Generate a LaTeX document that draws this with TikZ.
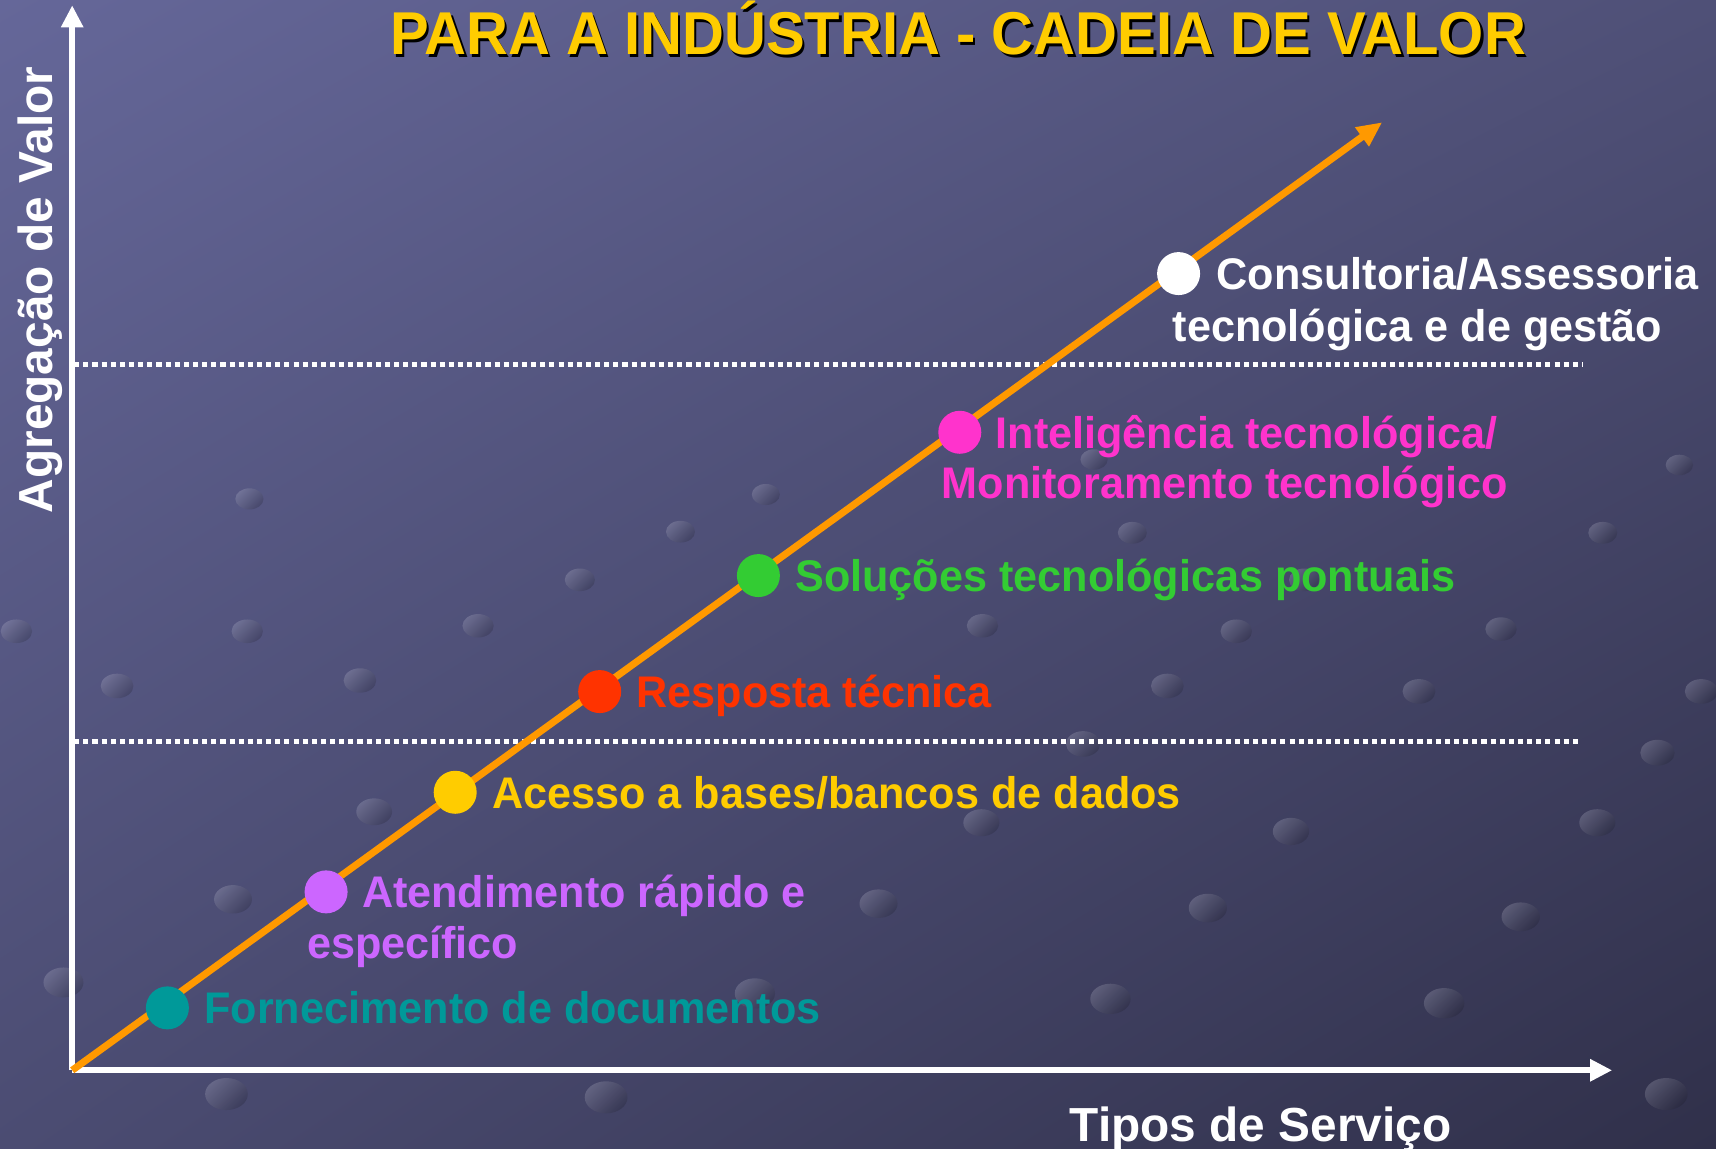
\documentclass[tikz,border=0pt]{standalone}
\usepackage{fontspec}
\setmainfont{Liberation Sans}
\newfontfamily\titleFamily[FakeStretch=0.96]{Liberation Sans}
\newfontfamily\labelFamily[FakeStretch=0.975]{Liberation Sans}
\usetikzlibrary{arrows.meta,positioning,shadings}

\newcommand{\xAxisLength}{15.40}
\newcommand{\yAxisHeight}{10.65}
\newcommand{\labelFont}{\labelFamily\fontsize{12.6}{15}\selectfont\bfseries}
\newcommand{\axisFont}{\fontsize{13.6}{16}\selectfont\bfseries}
\newcommand{\titleFont}{\titleFamily\fontsize{17.2}{20}\selectfont\bfseries}

\definecolor{bgTopLeft}{HTML}{656799}
\definecolor{bgTopRight}{HTML}{4F5077}
\definecolor{bgBottomLeft}{HTML}{4B4C72}
\definecolor{bgBottomRight}{HTML}{30304A}
\definecolor{valueOrange}{HTML}{FF9900}
\definecolor{titleYellow}{HTML}{FFCC00}
\definecolor{fornecColor}{HTML}{009999}
\definecolor{atendColor}{HTML}{CC66FF}
\definecolor{acessoColor}{HTML}{FFCC00}
\definecolor{respostaColor}{HTML}{FF3300}
\definecolor{solucoesColor}{HTML}{33CC33}
\definecolor{intelColor}{HTML}{FF33CC}

\tikzset{
  axis/.style={white, line width=1.8pt, -{Triangle[length=0.22cm,width=0.21cm]}},
  level/.style={white, line width=1.4pt, dash pattern=on 1.45pt off 1.15pt},
  point/.style={circle, fill=#1, minimum size=0.43cm, inner sep=0pt},
  lbl/.style={text=#1, font=\labelFont, inner sep=0pt, text height=9pt, text depth=0pt},
  bump/.style={top color=white!70!bgTopLeft, bottom color=black!60!bgBottomRight, shading angle=45, fill opacity=0.22},
}

\begin{document}
\begin{tikzpicture}
\useasboundingbox (-0.722,-0.787) rectangle (16.438,10.703);
\shade[upper left=bgTopLeft, upper right=bgTopRight, lower left=bgBottomLeft, lower right=bgBottomRight]
  (-0.722,-0.787) rectangle (16.438,10.703);

% background bumps, positions in px
\foreach \bx/\by in {207/1000, 554/1003, 1523/1000, 58/898, 690/908, 1015/913, 1320/917,
    213/822, 803/826, 1104/830, 1390/838, 342/742, 897/752, 1180/760, 1460/752,
    990/680, 1515/688, 107/627, 329/622, 1067/627, 1297/632, 1555/632,
    15/577, 226/577, 437/572, 898/572, 1130/577, 1372/575, 530/530, 1192/530,
    622/486, 1035/487, 1465/487, 228/456, 700/452, 1000/420, 1535/425}
  \shade[bump] ({\bx*0.010944-0.722},{10.703-\by*0.010944})
    ellipse ({0.08+0.14*\by/1050} and {0.75*(0.08+0.14*\by/1050)});

% title with drop shadow
\node[text=black, font=\titleFont, inner sep=0pt] (titleShadow) at (8.884,10.395) {PARA A INDÚSTRIA - CADEIA DE VALOR};
\node[text=titleYellow, font=\titleFont, inner sep=0pt] (title) at (8.859,10.420) {PARA A INDÚSTRIA - CADEIA DE VALOR};

% levels
\draw[level] (0.02,7.06) -- (15.11,7.06);
\draw[level] (0.02,3.29) -- (15.06,3.29);

% axes
\coordinate (origin) at (0,0);
\coordinate (yTip) at (0,\yAxisHeight);
\coordinate (xTip) at (\xAxisLength,0);
\coordinate (valueTip) at (13.10,9.48);
\draw[axis] (origin) -- (yTip);
\draw[axis] (origin) -- (xTip);
\node[text=white, font=\axisFont, rotate=90, inner sep=0pt, text height=9.75pt, text depth=0pt] (yLabel) at (-0.372,7.803) {Agregação de Valor};
\node[text=white, font=\axisFont, inner sep=0pt, text height=9.75pt, text depth=0pt] (xLabel) at (11.885,-0.536) {Tipos de Serviço};

% value chain
\draw[valueOrange, line width=2pt, -{Triangle[length=0.25cm,width=0.22cm]}] (origin) -- (valueTip);

\node[point=fornecColor] (fornec) at (0.952,0.624) {};
\node[point=atendColor] (atend) at (2.539,1.784) {};
\node[point=acessoColor] (acesso) at (3.830,2.780) {};
\node[point=respostaColor] (resposta) at (5.275,3.787) {};
\node[point=solucoesColor] (solucoes) at (6.862,4.947) {};
\node[point=intelColor] (intel) at (8.876,6.380) {};
\node[point=white] (consult) at (11.064,7.967) {};

\node[lbl=fornecColor, right=1.4mm of fornec] (fornecText) {Fornecimento de documentos};
\node[lbl=atendColor, right=1.3mm of atend] (atendText) {Atendimento rápido e};
\node[lbl=atendColor, anchor=base west] (atendTextB) at (2.342,1.119) {específico};
\node[lbl=acessoColor, right=1.4mm of acesso] (acessoText) {Acesso a bases/bancos de dados};
\node[lbl=respostaColor, right=1.4mm of resposta] (respostaText) {Resposta técnica};
\node[lbl=solucoesColor, right=1.4mm of solucoes] (solucoesText) {Soluções tecnológicas pontuais};
\node[lbl=intelColor, right=1.3mm of intel] (intelText) {Inteligência tecnológica/};
\node[lbl=intelColor, anchor=base west] (intelTextB) at (8.689,5.715) {Monitoramento tecnológico};
\node[lbl=white, right=1.5mm of consult] (consultText) {Consultoria/Assessoria};
\node[lbl=white, anchor=base west] (consultTextB) at (10.999,7.290) {tecnológica e de gestão};
\end{tikzpicture}
\end{document}
